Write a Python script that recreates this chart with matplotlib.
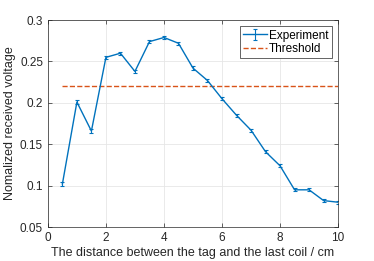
#!/usr/bin/env python
import matplotlib
matplotlib.use('Agg')
import matplotlib.pyplot as plt
import numpy as np

distance = [0.5, 1.0, 1.5, 2.0, 2.5, 3.0, 3.5, 4.0, 4.5, 5.0,
            5.5, 6.0, 6.5, 7.0, 7.5, 8.0, 8.5, 9.0, 9.5, 10.0]
voltage = [0.102, 0.201, 0.166, 0.255, 0.260, 0.238, 0.274, 0.279, 0.272, 0.242,
           0.227, 0.205, 0.185, 0.167, 0.141, 0.124, 0.095, 0.095, 0.082, 0.080]
voltage_err = [0.002] * len(distance)
threshold = 0.22

plt.rcParams['font.family'] = ['Liberation Sans', 'DejaVu Sans']
plt.rcParams['font.size'] = 8

fig = plt.figure(figsize=(3.74, 2.61), dpi=100)
ax = fig.add_axes([0.128, 0.130, 0.776, 0.793])

h_exp = ax.errorbar(distance, voltage, yerr=voltage_err, color='#0072BD',
                    linewidth=1.0, capsize=1.5, elinewidth=0.8, capthick=0.8,
                    label='Experiment')
h_thr, = ax.plot([distance[0], distance[-1]], [threshold, threshold], '--',
                 color='#D95319', linewidth=1.0, label='Threshold')

ax.set_xlim(0, 10)
ax.set_ylim(0.05, 0.3)
ax.set_xticks([0, 2, 4, 6, 8, 10])
ax.set_yticks([0.05, 0.1, 0.15, 0.2, 0.25, 0.3])
ax.set_yticklabels(['0.05', '0.1', '0.15', '0.2', '0.25', '0.3'])
ax.grid(True, color='#e6e6e6', linewidth=0.6)
ax.set_axisbelow(True)
ax.tick_params(direction='in', top=True, right=True, length=3,
               width=0.5, colors='#262626', labelsize=8.5)
for s in ax.spines.values():
    s.set_color('#262626')
    s.set_linewidth(0.5)

ax.set_xlabel('The distance between the tag and the last coil / cm',
              fontsize=9, color='#262626', labelpad=2)
ax.set_ylabel('Nomalized received voltage', fontsize=9, color='#262626',
              labelpad=3)

leg = ax.legend([h_exp, h_thr], ['Experiment', 'Threshold'],
                loc='upper right', fontsize=8.5, fancybox=False,
                framealpha=1, edgecolor='#262626', borderpad=0.3,
                handlelength=2.0, handletextpad=0.2, labelspacing=0.1,
                borderaxespad=0.5)
leg.get_frame().set_linewidth(0.5)

fig.savefig('out.png', dpi=100)
